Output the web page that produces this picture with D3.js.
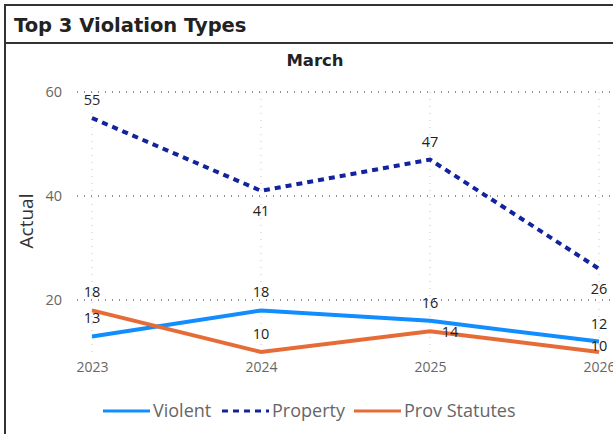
<!DOCTYPE html>
<html>
<head>
<meta charset="utf-8">
<script src="https://cdn.jsdelivr.net/npm/d3@7.9.0/dist/d3.min.js"></script>
<style>
  body { margin: 0; background: #fff; }
  svg { display: block; font-family: "Open Sans", "Noto Sans", sans-serif; }
</style>
</head>
<body>
<div id="chart"></div>
<script>
// data
const years = [2023, 2024, 2025, 2026];
const violent = [13, 18, 16, 12];
const property = [55, 41, 47, 26];
const provStatutes = [18, 10, 14, 10];
const yTicks = [20, 40, 60];

const series = [
  { name: 'Violent', values: violent, color: '#118DFF', dash: null, labelPos: ['above', 'above', 'above', 'above'] },
  { name: 'Property', values: property, color: '#12239E', dash: '6,5', labelPos: ['above', 'below', 'above', 'below'] },
  { name: 'Prov Statutes', values: provStatutes, color: '#E66C37', dash: null, labelPos: ['above', 'above', 'right', 'end'] },
];

const width = 613, height = 434;
const svg = d3.select('#chart').append('svg')
  .attr('width', width)
  .attr('height', height);

// frames
svg.append('rect')
  .attr('x', 5).attr('y', 5).attr('width', 640).attr('height', 38)
  .attr('fill', 'none').attr('stroke', '#333').attr('stroke-width', 2);
svg.append('line')
  .attr('x1', 5).attr('x2', 5).attr('y1', 43).attr('y2', height)
  .attr('stroke', '#333').attr('stroke-width', 2);

svg.append('text')
  .attr('x', 14).attr('y', 32)
  .attr('font-family', 'DejaVu Sans, sans-serif')
  .attr('font-weight', 'bold')
  .attr('font-size', 19.5)
  .attr('fill', '#222')
  .text('Top 3 Violation Types');

svg.append('text')
  .attr('x', 315).attr('y', 66)
  .attr('text-anchor', 'middle')
  .attr('font-family', 'DejaVu Sans, sans-serif')
  .attr('font-weight', 'bold')
  .attr('font-size', 16.5)
  .attr('fill', '#222')
  .text('March');

const x = d3.scalePoint().domain(years).range([92, 599]);
const y = d3.scaleLinear().domain([0, 60]).range([404, 92]);

// vertical grid
svg.append('g')
  .selectAll('line')
  .data(years)
  .join('line')
  .attr('x1', d => x(d)).attr('x2', d => x(d))
  .attr('y1', 92).attr('y2', 357)
  .attr('stroke', '#c8c8c8').attr('stroke-width', 1)
  .attr('stroke-dasharray', '1,6');

// horizontal grid
svg.append('g')
  .selectAll('line')
  .data(yTicks)
  .join('line')
  .attr('x1', 77).attr('x2', width)
  .attr('y1', d => y(d)).attr('y2', d => y(d))
  .attr('stroke', '#222').attr('stroke-width', 1)
  .attr('stroke-dasharray', '1,6');

// y axis labels
const yAxis = d3.axisLeft(y).tickValues(yTicks).tickSize(0).tickPadding(0);
const gy = svg.append('g').attr('transform', 'translate(62,0)').call(yAxis);
gy.select('.domain').remove();
gy.selectAll('text').attr('font-size', 14.5).attr('fill', '#666')
  .attr('font-family', '"Open Sans", sans-serif');

// x axis labels
const xAxis = d3.axisBottom(x).tickSize(0).tickPadding(0).tickFormat(d3.format('d'));
const gx = svg.append('g').attr('transform', 'translate(0,362)').call(xAxis);
gx.select('.domain').remove();
gx.selectAll('text').attr('font-size', 14).attr('fill', '#666')
  .attr('font-family', '"Open Sans", sans-serif');

svg.append('text')
  .attr('transform', 'translate(33,221) rotate(-90)')
  .attr('text-anchor', 'middle')
  .attr('font-size', 19)
  .attr('fill', '#333')
  .text('Actual');

// lines
const line = d3.line().x((d, i) => x(years[i])).y(d => y(d));
svg.append('g')
  .selectAll('path')
  .data(series)
  .join('path')
  .attr('d', d => line(d.values))
  .attr('fill', 'none')
  .attr('stroke', d => d.color)
  .attr('stroke-width', 4)
  .attr('stroke-dasharray', d => d.dash);

// data labels
series.forEach(s => {
  svg.append('g')
    .selectAll('text')
    .data(s.values)
    .join('text')
    .attr('x', (d, i) => s.labelPos[i] === 'right' ? x(years[i]) + 20 : x(years[i]))
    .attr('y', (d, i) => {
      const p = s.labelPos[i];
      if (p === 'above') return y(d) - 13;
      if (p === 'below') return y(d) + 25;
      if (p === 'end') return y(d) - 1;
      return y(d) + 6;
    })
    .attr('text-anchor', 'middle')
    .attr('font-size', 14.5)
    .attr('fill', '#222')
    .text(d => d);
});

// legend
const legend = svg.append('g').attr('transform', 'translate(103,411)');
const legendX = [0, 119, 251];
series.forEach((s, i) => {
  const g = legend.append('g').attr('transform', `translate(${legendX[i]},0)`);
  g.append('line')
    .attr('x1', 0).attr('x2', 47).attr('y1', 0).attr('y2', 0)
    .attr('stroke', s.color).attr('stroke-width', 3)
    .attr('stroke-dasharray', s.dash);
  g.append('text')
    .attr('x', 50).attr('y', 6)
    .attr('font-size', 18)
    .attr('fill', '#666')
    .text(s.name);
});
</script>
</body>
</html>
